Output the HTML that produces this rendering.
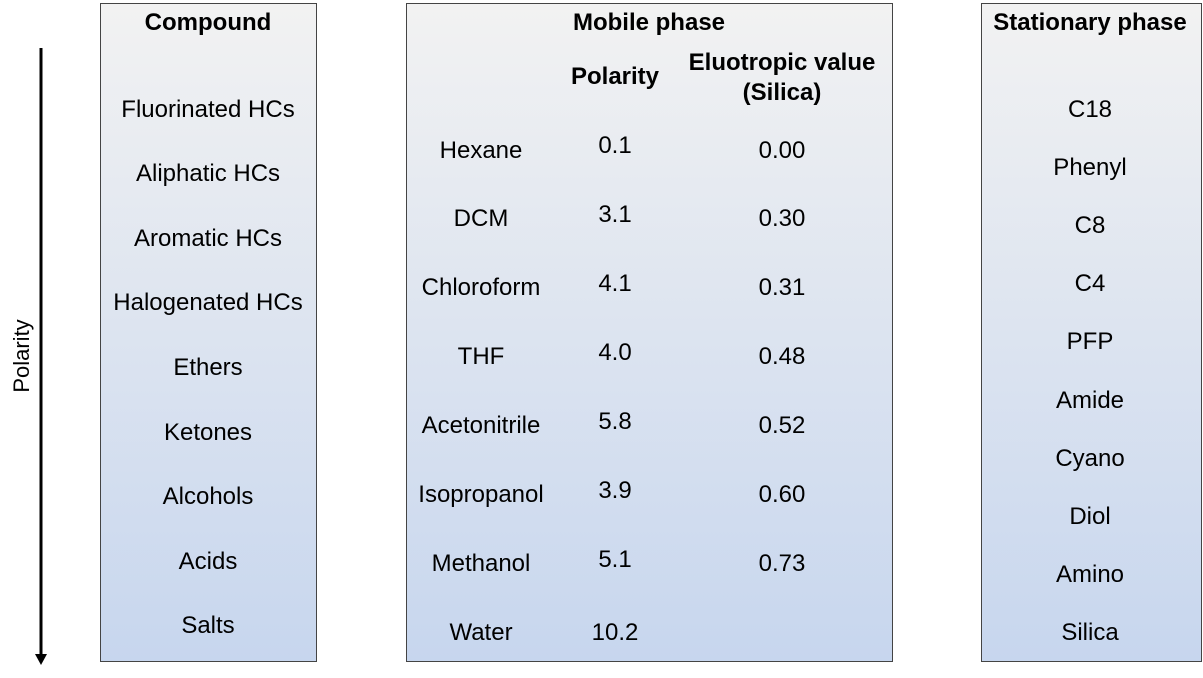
<!DOCTYPE html>
<html><head><meta charset="utf-8"><style>
body{margin:0;width:1203px;height:678px;background:#fff;position:relative;overflow:hidden;font-family:"Liberation Sans",Arial,sans-serif;}
.box{position:absolute;border:1px solid #444;box-sizing:border-box;background:linear-gradient(#f2f2f2,#c7d6ee);}
.t{position:absolute;transform:translate(-50%,-50%);white-space:nowrap;font-size:24px;color:#000;}
.h{font-weight:bold;font-size:24px;}
</style></head><body>
<div class="box" style="left:100px;top:3px;width:217px;height:659px"></div>
<div class="box" style="left:406px;top:3px;width:487px;height:659px"></div>
<div class="box" style="left:981px;top:3px;width:221px;height:659px"></div>
<svg style="position:absolute;left:0;top:0" width="80" height="678">
<line x1="41" y1="48" x2="41" y2="656" stroke="#000" stroke-width="3"/>
<polygon points="35,654 47,654 41,665" fill="#000"/>
</svg>
<div class="t" style="left:22px;top:356px;transform:translate(-50%,-50%) rotate(-90deg);font-size:22px">Polarity</div>
<script>
const compounds=["Fluorinated HCs","Aliphatic HCs","Aromatic HCs","Halogenated HCs","Ethers","Ketones","Alcohols","Acids","Salts"];
const solvents=["Hexane","DCM","Chloroform","THF","Acetonitrile","Isopropanol","Methanol","Water"];
const polarity=["0.1","3.1","4.1","4.0","5.8","3.9","5.1","10.2"];
const eluotropic=["0.00","0.30","0.31","0.48","0.52","0.60","0.73"];
const stationary=["C18","Phenyl","C8","C4","PFP","Amide","Cyano","Diol","Amino","Silica"];
function add(txt,x,y,name,cls){
  const d=document.createElement('div');
  d.className='t'+(cls?' '+cls:'');
  d.textContent=txt;d.style.left=x+'px';d.style.top=y+'px';
  
  
  document.body.appendChild(d);
}
add("Compound",208,23,"compound-header","h");
add("Mobile phase",649,23,"mobile-phase-header","h");
add("Polarity",615,77,"polarity-header","h");
add("Eluotropic value",782,63,"eluotropic-header","h");
add("(Silica)",782,93,"eluotropic-subheader","h");
add("Stationary phase",1090,23,"stationary-phase-header","h");
compounds.forEach((c,i)=>add(c,208,109.5+i*64.6,"compound-item"));
solvents.forEach((s,i)=>add(s,481,150.5+i*68.9,"solvent-name"));
polarity.forEach((p,i)=>add(p,615,(i===7?632.5:145.5+i*69),"solvent-polarity"));
eluotropic.forEach((e,i)=>add(e,782,150.5+i*68.9,"eluotropic-value"));
stationary.forEach((s,i)=>add(s,1090,109.5+i*58.2,"stationary-item"));
</script>
</body></html>
